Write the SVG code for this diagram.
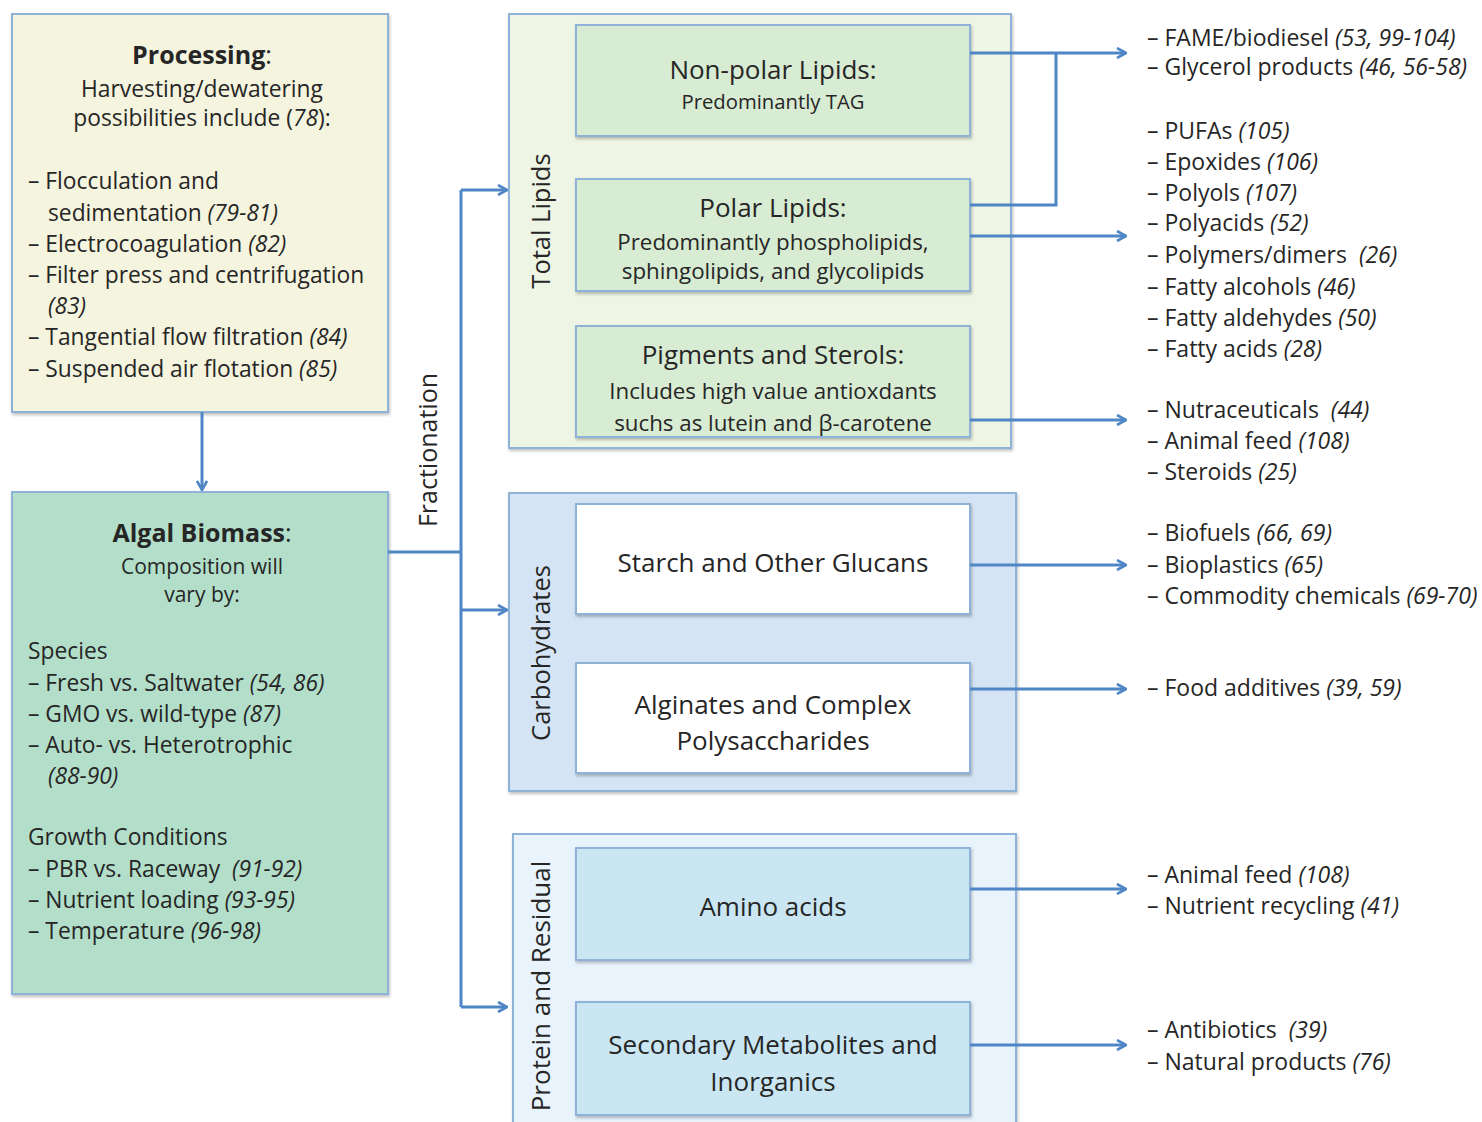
<svg xmlns="http://www.w3.org/2000/svg" width="1482" height="1122" viewBox="0 0 1482 1122">
<defs>
<marker id="ah" viewBox="0 0 12 12" refX="11" refY="6" markerWidth="12" markerHeight="12" markerUnits="userSpaceOnUse" orient="auto">
<polyline points="2,1 11,6 2,11" fill="none" stroke="#4f86c6" stroke-width="2.6" stroke-linejoin="miter"/>
</marker>
<filter id="sh" x="-5%" y="-5%" width="110%" height="115%">
<feDropShadow dx="1" dy="2" stdDeviation="1.5" flood-color="#000" flood-opacity="0.25"/>
</filter>
</defs>
<style>
text{font-family:"Open Sans",Lato,"Liberation Sans",sans-serif;fill:#262626}
.box{stroke:#8fb2d9;stroke-width:2}
.t{font-size:22.8px}
.lst{font-size:23px}
.h{font-size:26px}
.v{font-size:25.5px}
.s{font-size:21px}
.sub{font-size:22.3px}
.b{font-weight:bold}
.i{font-style:italic}
.c{text-anchor:middle}
.conn{fill:none;stroke:#4f86c6;stroke-width:3}
</style>
<rect width="1482" height="1122" fill="#ffffff"/>

<g id="processing">
<rect class="box" x="12" y="14" width="376" height="398" fill="#f5f4de" filter="url(#sh)"/>
<text class="c" x="202" y="64" style="font-size:25px"><tspan class="b">Processing</tspan>:</text>
<text class="t c" x="202" y="97">Harvesting/dewatering</text>
<text class="t c" x="202" y="126">possibilities include (<tspan class="i">78</tspan>):</text>
<text class="t" x="28" y="189">– Flocculation and</text>
<text class="t" x="48" y="221">sedimentation <tspan class="i">(79-81)</tspan></text>
<text class="t" x="28" y="252">– Electrocoagulation <tspan class="i">(82)</tspan></text>
<text class="t" x="28" y="283">– Filter press and centrifugation</text>
<text class="t" x="48" y="314"><tspan class="i">(83)</tspan></text>
<text class="t" x="28" y="345">– Tangential flow filtration <tspan class="i">(84)</tspan></text>
<text class="t" x="28" y="377">– Suspended air flotation <tspan class="i">(85)</tspan></text>
</g>

<g id="algal-biomass">
<rect class="box" x="12" y="492" width="376" height="502" fill="#b3dfca" filter="url(#sh)"/>
<text class="c" x="202" y="542" style="font-size:25px"><tspan class="b">Algal Biomass</tspan>:</text>
<text class="s c" x="202" y="574">Composition will</text>
<text class="s c" x="202" y="602">vary by:</text>
<text class="t" x="28" y="659">Species</text>
<text class="t" x="28" y="691">– Fresh vs. Saltwater <tspan class="i">(54, 86)</tspan></text>
<text class="t" x="28" y="722">– GMO vs. wild-type <tspan class="i">(87)</tspan></text>
<text class="t" x="28" y="753">– Auto- vs. Heterotrophic</text>
<text class="t" x="48" y="784"><tspan class="i">(88-90)</tspan></text>
<text class="t" x="28" y="845">Growth Conditions</text>
<text class="t" x="28" y="877" xml:space="preserve">– PBR vs. Raceway  <tspan class="i">(91-92)</tspan></text>
<text class="t" x="28" y="908">– Nutrient loading <tspan class="i">(93-95)</tspan></text>
<text class="t" x="28" y="939">– Temperature <tspan class="i">(96-98)</tspan></text>
</g>

<g id="total-lipids">
<rect class="box" x="509" y="14" width="502" height="434" fill="#eef5e4" filter="url(#sh)"/>
<text class="v c" transform="translate(550,221) rotate(-90)">Total Lipids</text>
</g>
<g id="non-polar-lipids">
<rect class="box" x="576" y="25" width="394" height="111" fill="#d8ebd3" filter="url(#sh)"/>
<text class="h c" x="773" y="79">Non-polar Lipids:</text>
<text class="c" x="773" y="109" style="font-size:20.3px">Predominantly TAG</text>
</g>
<g id="polar-lipids">
<rect class="box" x="576" y="179" width="394" height="112" fill="#d8ebd3" filter="url(#sh)"/>
<text class="h c" x="773" y="217">Polar Lipids:</text>
<text class="sub c" x="773" y="250">Predominantly phospholipids,</text>
<text class="sub c" x="773" y="279">sphingolipids, and glycolipids</text>
</g>
<g id="pigments-sterols">
<rect class="box" x="576" y="326" width="394" height="111" fill="#d8ebd3" filter="url(#sh)"/>
<text class="h c" x="773" y="364">Pigments and Sterols:</text>
<text class="sub c" x="773" y="399">Includes high value antioxdants</text>
<text class="sub c" x="773" y="431">suchs as lutein and β-carotene</text>
</g>

<g id="carbohydrates">
<rect class="box" x="509" y="493" width="507" height="298" fill="#d5e4f4" filter="url(#sh)"/>
<text class="v c" transform="translate(550,653) rotate(-90)">Carbohydrates</text>
</g>
<g id="starch">
<rect class="box" x="576" y="504" width="394" height="110" fill="#ffffff" filter="url(#sh)"/>
<text class="h c" x="773" y="572">Starch and Other Glucans</text>
</g>
<g id="alginates">
<rect class="box" x="576" y="663" width="394" height="110" fill="#ffffff" filter="url(#sh)"/>
<text class="h c" x="773" y="714">Alginates and Complex</text>
<text class="h c" x="773" y="750">Polysaccharides</text>
</g>

<g id="protein-residual">
<rect class="box" x="513" y="834" width="503" height="300" fill="#e8f3fb" filter="url(#sh)"/>
<text class="c" transform="translate(550,986) rotate(-90)" style="font-size:26px">Protein and Residual</text>
</g>
<g id="amino-acids">
<rect class="box" x="576" y="848" width="394" height="112" fill="#c9e6f2" filter="url(#sh)"/>
<text class="h c" x="773" y="916">Amino acids</text>
</g>
<g id="secondary-metabolites">
<rect class="box" x="576" y="1002" width="394" height="113" fill="#c9e6f2" filter="url(#sh)"/>
<text class="h c" x="773" y="1054">Secondary Metabolites and</text>
<text class="h c" x="773" y="1091">Inorganics</text>
</g>

<g id="connectors">
<line class="conn" x1="202" y1="412" x2="202" y2="490" marker-end="url(#ah)"/>
<polyline class="conn" points="388,552 461,552"/>
<line class="conn" x1="461" y1="190" x2="461" y2="1007"/>
<line class="conn" x1="461" y1="190" x2="507" y2="190" marker-end="url(#ah)"/>
<line class="conn" x1="461" y1="610" x2="507" y2="610" marker-end="url(#ah)"/>
<line class="conn" x1="461" y1="1007" x2="507" y2="1007" marker-end="url(#ah)"/>
<line class="conn" x1="970" y1="53" x2="1126" y2="53" marker-end="url(#ah)"/>
<polyline class="conn" points="970,205 1056,205 1056,53"/>
<line class="conn" x1="970" y1="236" x2="1126" y2="236" marker-end="url(#ah)"/>
<line class="conn" x1="970" y1="420" x2="1126" y2="420" marker-end="url(#ah)"/>
<line class="conn" x1="970" y1="565" x2="1126" y2="565" marker-end="url(#ah)"/>
<line class="conn" x1="970" y1="689" x2="1126" y2="689" marker-end="url(#ah)"/>
<line class="conn" x1="970" y1="889" x2="1126" y2="889" marker-end="url(#ah)"/>
<line class="conn" x1="970" y1="1045" x2="1126" y2="1045" marker-end="url(#ah)"/>
<text class="c" transform="translate(437,450) rotate(-90)" style="font-size:25px">Fractionation</text>
</g>

<g id="products">
<text class="lst" x="1147" y="46">– FAME/biodiesel <tspan class="i">(53, 99-104)</tspan></text>
<text class="lst" x="1147" y="75">– Glycerol products <tspan class="i">(46, 56-58)</tspan></text>
<text class="lst" x="1147" y="139">– PUFAs <tspan class="i">(105)</tspan></text>
<text class="lst" x="1147" y="170">– Epoxides <tspan class="i">(106)</tspan></text>
<text class="lst" x="1147" y="201">– Polyols <tspan class="i">(107)</tspan></text>
<text class="lst" x="1147" y="231">– Polyacids <tspan class="i">(52)</tspan></text>
<text class="lst" x="1147" y="263" xml:space="preserve">– Polymers/dimers  <tspan class="i">(26)</tspan></text>
<text class="lst" x="1147" y="295">– Fatty alcohols <tspan class="i">(46)</tspan></text>
<text class="lst" x="1147" y="326">– Fatty aldehydes <tspan class="i">(50)</tspan></text>
<text class="lst" x="1147" y="357">– Fatty acids <tspan class="i">(28)</tspan></text>
<text class="lst" x="1147" y="418" xml:space="preserve">– Nutraceuticals  <tspan class="i">(44)</tspan></text>
<text class="lst" x="1147" y="449">– Animal feed <tspan class="i">(108)</tspan></text>
<text class="lst" x="1147" y="480">– Steroids <tspan class="i">(25)</tspan></text>
<text class="lst" x="1147" y="541">– Biofuels <tspan class="i">(66, 69)</tspan></text>
<text class="lst" x="1147" y="573">– Bioplastics <tspan class="i">(65)</tspan></text>
<text class="lst" x="1147" y="604">– Commodity chemicals <tspan class="i">(69-70)</tspan></text>
<text class="lst" x="1147" y="696">– Food additives <tspan class="i">(39, 59)</tspan></text>
<text class="lst" x="1147" y="883">– Animal feed <tspan class="i">(108)</tspan></text>
<text class="lst" x="1147" y="914">– Nutrient recycling <tspan class="i">(41)</tspan></text>
<text class="lst" x="1147" y="1038" xml:space="preserve">– Antibiotics  <tspan class="i">(39)</tspan></text>
<text class="lst" x="1147" y="1070">– Natural products <tspan class="i">(76)</tspan></text>
</g>
</svg>
